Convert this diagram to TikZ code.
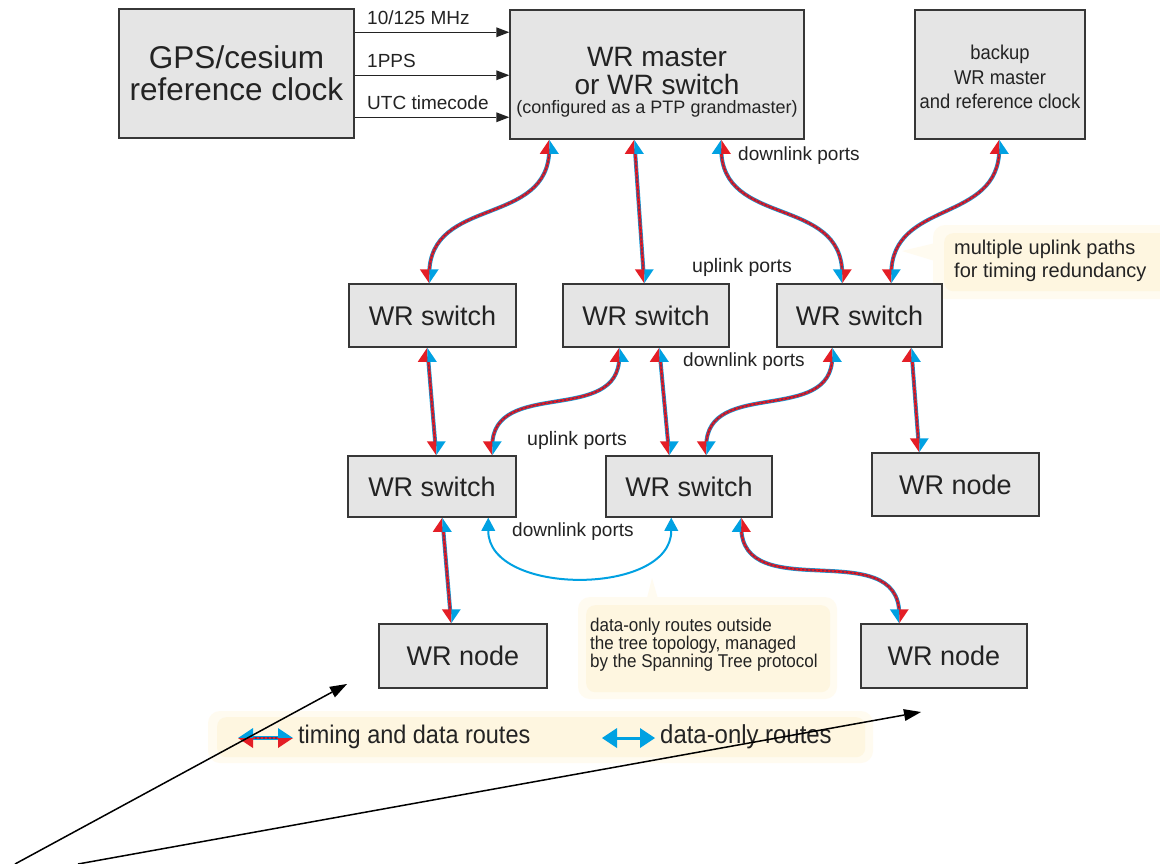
\documentclass[tikz,border=0pt]{standalone}
\usepackage{fontspec}
\setmainfont{Liberation Sans}
\newfontfamily\narrowsans[FakeStretch=0.92]{Liberation Sans}
\usetikzlibrary{arrows.meta,calc}

\definecolor{boxfill}{RGB}{229,229,229}
\definecolor{boxline}{RGB}{55,55,55}
\definecolor{tdred}{RGB}{228,30,38}
\definecolor{tdblue}{RGB}{0,161,226}
\definecolor{tdcore}{RGB}{115,40,85}
\definecolor{notebg}{RGB}{254,246,224}
\definecolor{noteglow}{RGB}{255,251,240}
\definecolor{ink}{RGB}{35,35,35}

\tikzset{
  box/.style={draw=boxline, fill=boxfill, line width=1.5pt, inner sep=0pt, text=ink},
  note/.style={fill=notebg, draw=none, rounded corners=9pt, inner sep=0pt},
  lbl/.style={text=ink, inner sep=0pt},
  sig/.style={draw=ink, line width=1.3pt, -{Triangle[width=10pt,length=13pt,line width=0pt]}},
  pointer/.style={draw=black, line width=1.5pt, -{Triangle[width=12pt,length=17pt,line width=0pt]}},
  dataonly/.style={draw=tdblue, line width=2pt,
    arrows={Triangle[width=14pt,length=13pt,line width=0pt]-Triangle[width=14pt,length=13pt,line width=0pt]}},
  rib blue/.style={draw=tdblue, line width=4pt, shorten <=9pt, shorten >=9pt},
  rib red/.style={draw=tdred, line width=2.8pt, shorten <=9pt, shorten >=9pt},
  rib core/.style={draw=tdcore, line width=1.3pt, dash pattern=on 2pt off 2pt, shorten <=9pt, shorten >=9pt},
}

% timing-and-data link: blue and red strands on one path
\newcommand{\ribbon}[1]{\draw[rib blue] #1; \draw[rib red] #1; \draw[rib core] #1;}
% split arrowheads: #1 apex, #2 colour of the west half, #3 colour of the east half
\newcommand{\tipdown}[3]{%
  \fill[#2] (#1) -- ($(#1)+(-9.5,-14)$) -- ($(#1)+(0,-14)$) -- cycle;
  \fill[#3] (#1) -- ($(#1)+(0,-14)$) -- ($(#1)+(9.5,-14)$) -- cycle;}
\newcommand{\tipup}[3]{%
  \fill[#2] (#1) -- ($(#1)+(-9.5,14)$) -- ($(#1)+(0,14)$) -- cycle;
  \fill[#3] (#1) -- ($(#1)+(0,14)$) -- ($(#1)+(9.5,14)$) -- cycle;}
% horizontal split arrowheads: #1 apex, #2 colour of the upper half, #3 colour of the lower half
\newcommand{\tipleft}[3]{%
  \fill[#2] (#1) -- ($(#1)+(15,-10)$) -- ($(#1)+(15,0)$) -- cycle;
  \fill[#3] (#1) -- ($(#1)+(15,0)$) -- ($(#1)+(15,10)$) -- cycle;}
\newcommand{\tipright}[3]{%
  \fill[#2] (#1) -- ($(#1)+(-15,-10)$) -- ($(#1)+(-15,0)$) -- cycle;
  \fill[#3] (#1) -- ($(#1)+(-15,0)$) -- ($(#1)+(-15,10)$) -- cycle;}

\begin{document}
\begin{tikzpicture}[x=1pt,y=-1pt]
\useasboundingbox[fill=white] (0,0) rectangle (1160,863);

% ---- note backgrounds ----
\fill[noteglow, rounded corners=12pt] (933,225) rectangle (1172,299);
\fill[noteglow] (948,240) -- (902,251) -- (948,265) -- cycle;
\node[note, anchor=north west, minimum width=225pt, minimum height=58pt] (multinote) at (944,233) {};

\fill[noteglow, rounded corners=12pt] (578,597) rectangle (837,699);
\fill[noteglow] (645,606) -- (652,578) -- (660,606) -- cycle;
\node[note, anchor=north west, minimum width=244pt, minimum height=87pt] (datanote) at (586,605) {};

\fill[noteglow, rounded corners=12pt] (208,711) rectangle (873,763);
\node[note, anchor=north west, minimum width=648pt, minimum height=40pt] (legendnote) at (217,717) {};

% ---- boxes ----
\node[box, minimum width=235pt, minimum height=129pt, align=center,
      font=\fontsize{31.5}{32}\selectfont] (gps) at (236.5,73.5) {GPS/cesium\\reference clock};
\node[box, minimum width=294pt, minimum height=129pt] (master) at (657,74.5) {};
\node[lbl, align=center, font=\fontsize{28}{28}\selectfont] (masterlbl) at (657,71) {WR master\\or WR switch};
\node[lbl, font=\fontsize{18}{20}\selectfont] (mastersub) at (657,109) {(configured as a PTP grandmaster)};
\node[box, minimum width=170pt, minimum height=129pt] (backup) at (1000,74.5) {};
\node[lbl, align=center, font=\narrowsans\fontsize{20}{24.5}\selectfont] (backuplbl) at (1000,77) {backup\\WR master\\and reference clock};

\node[box, minimum width=167pt, minimum height=63pt, font=\fontsize{27}{30}\selectfont] (sw1) at (432.5,315.5) {WR switch};
\node[box, minimum width=166pt, minimum height=63pt, font=\fontsize{27}{30}\selectfont] (sw2) at (646,315.5) {WR switch};
\node[box, minimum width=165pt, minimum height=63pt, font=\fontsize{27}{30}\selectfont] (sw3) at (859.5,315.5) {WR switch};
\node[box, minimum width=168pt, minimum height=61pt, font=\fontsize{27}{30}\selectfont] (sw4) at (432,486.5) {WR switch};
\node[box, minimum width=166pt, minimum height=61pt, font=\fontsize{27}{30}\selectfont] (sw5) at (689,486.5) {WR switch};
\node[box, minimum width=167pt, minimum height=63pt, font=\fontsize{27}{30}\selectfont] (nodeA) at (955.5,484.5) {WR node};
\node[box, minimum width=168pt, minimum height=64pt, font=\fontsize{27}{30}\selectfont] (nodeB) at (463,656) {WR node};
\node[box, minimum width=166pt, minimum height=64pt, font=\fontsize{27}{30}\selectfont] (nodeC) at (944,656) {WR node};

% ---- reference clock signals ----
\draw[sig] ($(gps.north east)+(0,24)$) coordinate (c1) -- (c1 -| master.west);
\draw[sig] ($(gps.north east)+(0,67)$) coordinate (c2) -- (c2 -| master.west);
\draw[sig] ($(gps.north east)+(0,109)$) coordinate (c3) -- (c3 -| master.west);
\node[lbl, anchor=west, font=\fontsize{19}{21}\selectfont] (f1) at (367,18) {10/125 MHz};
\node[lbl, anchor=west, font=\fontsize{19}{21}\selectfont] (f2) at (367,61) {1PPS};
\node[lbl, anchor=west, font=\fontsize{19}{21}\selectfont] (f3) at (367,103) {UTC timecode};

% ---- port anchors ----
\coordinate (m1) at ([xshift=40pt]master.south west);
\coordinate (m2) at ([xshift=125pt]master.south west);
\coordinate (m3) at ([xshift=212pt]master.south west);
\coordinate (b1) at ([xshift=85pt]backup.south west);
\coordinate (s1t) at ([xshift=81pt]sw1.north west);
\coordinate (s2t) at ([xshift=82pt]sw2.north west);
\coordinate (s3ta) at ([xshift=66pt]sw3.north west);
\coordinate (s3tb) at ([xshift=115pt]sw3.north west);
\coordinate (s1b) at ([xshift=79pt]sw1.south west);
\coordinate (s2ba) at ([xshift=57pt]sw2.south west);
\coordinate (s2bb) at ([xshift=97pt]sw2.south west);
\coordinate (s3ba) at ([xshift=56pt]sw3.south west);
\coordinate (s3bb) at ([xshift=135pt]sw3.south west);
\coordinate (s4ta) at ([xshift=89pt]sw4.north west);
\coordinate (s4tb) at ([xshift=145pt]sw4.north west);
\coordinate (s5ta) at ([xshift=64pt]sw5.north west);
\coordinate (s5tb) at ([xshift=101pt]sw5.north west);
\coordinate (nAt) at ([xshift=48pt]nodeA.north west);
\coordinate (s4ba) at ([xshift=95pt]sw4.south west);
\coordinate (s4bb) at ([xshift=141pt]sw4.south west);
\coordinate (s5ba) at ([xshift=66pt]sw5.south west);
\coordinate (s5bb) at ([xshift=136pt]sw5.south west);
\coordinate (nBt) at ([xshift=73pt]nodeB.north west);
\coordinate (nCt) at ([xshift=39pt]nodeC.north west);

% ---- timing and data links ----
\ribbon{(m1) to[out=-90,in=90,looseness=1.2] (s1t)}
\ribbon{(m2) -- (s2t)}
\ribbon{(m3) to[out=-90,in=90,looseness=1.2] (s3ta)}
\ribbon{(b1) to[out=-90,in=90,looseness=1.2] (s3tb)}
\ribbon{(s1b) -- (s4ta)}
\ribbon{(s2ba) to[out=-90,in=90,looseness=1.2] (s4tb)}
\ribbon{(s2bb) -- (s5ta)}
\ribbon{(s3ba) to[out=-90,in=90,looseness=1.2] (s5tb)}
\ribbon{(s3bb) -- (nAt)}
\ribbon{(s4ba) -- (nBt)}
\ribbon{(s5bb) to[out=-90,in=90,looseness=1.2] (nCt)}

\tipup{m1}{tdred}{tdblue}     \tipdown{s1t}{tdred}{tdblue}
\tipup{m2}{tdred}{tdblue}     \tipdown{s2t}{tdred}{tdblue}
\tipup{m3}{tdblue}{tdred}     \tipdown{s3ta}{tdblue}{tdred}
\tipup{b1}{tdred}{tdblue}     \tipdown{s3tb}{tdred}{tdblue}
\tipup{s1b}{tdred}{tdblue}    \tipdown{s4ta}{tdred}{tdblue}
\tipup{s2ba}{tdred}{tdblue}   \tipdown{s4tb}{tdred}{tdblue}
\tipup{s2bb}{tdred}{tdblue}   \tipdown{s5ta}{tdred}{tdblue}
\tipup{s3ba}{tdred}{tdblue}   \tipdown{s5tb}{tdred}{tdblue}
\tipup{s3bb}{tdred}{tdblue}   \tipdown{nAt}{tdred}{tdblue}
\tipup{s4ba}{tdred}{tdblue}   \tipdown{nBt}{tdred}{tdblue}
\tipup{s5bb}{tdblue}{tdred}   \tipdown{nCt}{tdblue}{tdred}

% ---- data-only link ----
\draw[dataonly] (s4bb) to[out=-90,in=-90,looseness=1.1] (s5ba);

% ---- port labels ----
\node[lbl, anchor=west, font=\fontsize{19}{21}\selectfont] (dl1) at (738,156) {downlink ports};
\node[lbl, anchor=west, font=\fontsize{19.5}{21}\selectfont] (ul1) at (692,267) {uplink ports};
\node[lbl, anchor=west, font=\fontsize{19}{21}\selectfont] (dl2) at (683,362) {downlink ports};
\node[lbl, anchor=west, font=\fontsize{19.5}{21}\selectfont] (ul2) at (527,440) {uplink ports};
\node[lbl, anchor=west, font=\fontsize{19}{21}\selectfont] (dl3) at (512,532) {downlink ports};

% ---- notes ----
\node[lbl, anchor=west, align=left, font=\fontsize{20}{23}\selectfont] (multitext) at (954,260.5)
  {multiple uplink paths\\for timing redundancy};
\node[lbl, anchor=west, align=left, font=\narrowsans\fontsize{18.5}{18}\selectfont] (datatext) at (590,645)
  {data-only routes outside\\the tree topology, managed\\by the Spanning Tree protocol};

% ---- legend ----
\coordinate (lt1) at (238,738);
\coordinate (lt2) at (293,738);
\ribbon{(lt1) -- (lt2)}
\tipleft{lt1}{tdblue}{tdred}
\tipright{lt2}{tdblue}{tdred}
\node[lbl, anchor=west, font=\narrowsans\fontsize{25.5}{28}\selectfont] (legtd) at (298,737) {timing and data routes};
\coordinate (ld1) at (602,738);
\coordinate (ld2) at (655,738);
\draw[draw=tdblue, line width=3pt,
  arrows={Triangle[width=20pt,length=15pt,line width=0pt]-Triangle[width=20pt,length=15pt,line width=0pt]}] (ld1) -- (ld2);
\node[lbl, anchor=west, font=\narrowsans\fontsize{26}{28}\selectfont] (legdo) at (660,737) {data-only routes};

% ---- pointer arrows ----
\coordinate (p1) at (15,864);
\coordinate (p1tip) at (347,684);
\coordinate (p2) at (78,864);
\coordinate (p2tip) at (921,712);
\draw[pointer] (p1) -- (p1tip);
\draw[pointer] (p2) -- (p2tip);
\end{tikzpicture}
\end{document}
